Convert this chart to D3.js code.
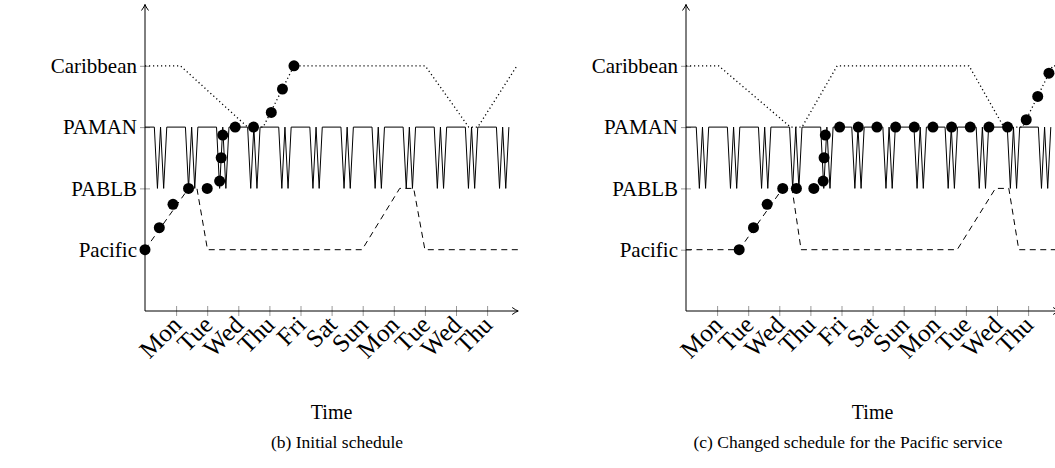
<!DOCTYPE html>
<html>
<head>
<meta charset="utf-8">
<script src="https://cdn.jsdelivr.net/npm/d3@7"></script>
<style>
  body { margin: 0; background: #fff; }
  svg text { font-family: "Liberation Serif", "DejaVu Serif", serif; fill: #000; }
</style>
</head>
<body>
<div id="root"></div>
<script>
// tick labels on both axes
const dayLabels = ['Mon', 'Tue', 'Wed', 'Thu', 'Fri', 'Sat', 'Sun', 'Mon', 'Tue', 'Wed', 'Thu'];
const dayTicks = [1, 2, 3, 4, 5, 6, 7, 8, 9, 10, 11];
const portLabels = ['Pacific', 'PABLB', 'PAMAN', 'Caribbean'];
const portTicks = [1, 2, 3, 4];

// (b) initial schedule, points are [day, port level]
const initialPacific = [[0, 1], [1.4, 2], [1.67, 2], [2.01, 1], [6.98, 1], [8.19, 2], [8.64, 2], [9.0, 1], [12, 1]];
const initialCaribbean = [[0, 4], [1.14, 4], [3.3, 3], [3.8, 3], [4.79, 4], [9.01, 4], [10.41, 3], [10.7, 3], [11.96, 4]];
const initialCanalStarts = [0.3, 1.3, 2.3, 3.3, 4.3, 5.3, 6.3, 7.3, 8.3, 9.3, 10.3, 11.3];
const initialCargo = [[0, 1], [0.46, 1.36], [0.9, 1.74], [1.4, 2], [2.0, 2], [2.4, 2.12], [2.45, 2.5], [2.5, 2.87],
    [2.9, 3], [3.49, 3], [4.06, 3.24], [4.42, 3.62], [4.79, 4]];

// (c) changed schedule
const changedPacific = [[0, 1], [1.71, 1], [3.11, 2], [3.41, 2], [3.7, 1], [8.72, 1], [9.95, 2], [10.38, 2], [10.7, 1], [12, 1]];
const changedCaribbean = [[0, 4], [1.05, 4], [3.36, 3], [3.73, 3], [4.86, 4], [9.1, 4], [10.22, 3], [10.82, 3], [11.79, 4], [12, 4]];
const changedCanalStarts = [0.33, 1.33, 2.33, 3.33, 4.33, 5.33, 6.33, 7.33, 8.33, 9.33, 10.33, 11.33];
const changedCargo = [[1.71, 1], [2.17, 1.36], [2.61, 1.74], [3.11, 2], [3.55, 2], [4.11, 2], [4.41, 2.12], [4.44, 2.5],
    [4.48, 2.87], [4.94, 3], [5.54, 3], [6.14, 3], [6.74, 3], [7.34, 3], [7.94, 3], [8.54, 3], [9.14, 3],
    [9.74, 3], [10.34, 3], [10.94, 3.12], [11.31, 3.5], [11.67, 3.88]];

// one canal round trip: PAMAN -> PABLB -> PAMAN -> PABLB -> PAMAN
const canalOffsets = [0, 0.1, 0.2, 0.3, 0.4];
const canalLevels = [3, 2, 3, 2, 3];

let svg = d3.select('#root')
    .append('svg')
    .attr('width', 1055)
    .attr('height', 468);

drawPanel(svg, 145, initialPacific, initialCaribbean, initialCanalStarts, initialCargo, '(b) Initial schedule', 337);
drawPanel(svg, 686, changedPacific, changedCaribbean, changedCanalStarts, changedCargo, '(c) Changed schedule for the Pacific service', 848);

function drawPanel(svg, originX, pacific, caribbean, canalStarts, cargo, caption, captionX) {

    let x = d3.scaleLinear().domain([0, 12]).range([originX, originX + 12 * 31.1]),
        y = d3.scaleLinear().domain([0, 5]).range([311, 311 - 5 * 61.3]),
        g = svg.append('g');

    // x axis with crossing ticks and rotated day names
    let xAxis = g.append('g')
        .attr('transform', 'translate(0,' + y(0) + ')')
        .call(d3.axisBottom(x).tickValues(dayTicks).tickFormat((d, i) => dayLabels[i]).tickSizeOuter(0))
        .attr('font-family', null).attr('font-size', null);
    xAxis.select('.domain').remove();
    xAxis.selectAll('.tick line').attr('y1', -5).attr('y2', 5).attr('stroke', '#999');
    xAxis.selectAll('.tick text')
        .attr('x', 0).attr('y', 0).attr('dy', '0.3em')
        .attr('text-anchor', 'end')
        .attr('transform', 'translate(1,10) rotate(-45)')
        .style('font-size', '25px');

    let yAxis = g.append('g')
        .attr('transform', 'translate(' + x(0) + ',0)')
        .call(d3.axisLeft(y).tickValues(portTicks).tickFormat((d, i) => portLabels[i]).tickSizeOuter(0))
        .attr('font-family', null).attr('font-size', null);
    yAxis.select('.domain').remove();
    yAxis.selectAll('.tick line').attr('x1', -5).attr('x2', 5).attr('stroke', '#999');
    yAxis.selectAll('.tick text')
        .attr('x', -8)
        .style('font-size', '21px');

    // axis lines with arrow heads
    let arrow = 'M-6,-3.5 Q-2,-0.6 0,0 Q-2,0.6 -6,3.5';
    g.append('line').attr('x1', x(0)).attr('y1', y(0)).attr('x2', x(12)).attr('y2', y(0))
        .attr('stroke', '#000').attr('stroke-width', 1);
    g.append('path').attr('d', arrow).attr('transform', 'translate(' + x(12) + ',' + y(0) + ')')
        .attr('fill', 'none').attr('stroke', '#000');
    g.append('line').attr('x1', x(0)).attr('y1', y(0)).attr('x2', x(0)).attr('y2', y(5))
        .attr('stroke', '#000').attr('stroke-width', 1);
    g.append('path').attr('d', arrow).attr('transform', 'translate(' + x(0) + ',' + y(5) + ') rotate(-90)')
        .attr('fill', 'none').attr('stroke', '#000');

    let line = d3.line().x((d) => x(d[0])).y((d) => y(d[1]));

    // canal shuttle built from its round trips
    let canal = [[0, 3]];
    canalStarts.forEach((start) => {
        canalOffsets.forEach((offset, i) => canal.push([start + offset, canalLevels[i]]));
    });

    g.append('path').datum(canal).attr('d', line)
        .attr('fill', 'none').attr('stroke', '#000').attr('stroke-width', 1);
    g.append('path').datum(pacific).attr('d', line)
        .attr('fill', 'none').attr('stroke', '#000').attr('stroke-width', 1)
        .attr('stroke-dasharray', '6,4.5');
    g.append('path').datum(caribbean).attr('d', line)
        .attr('fill', 'none').attr('stroke', '#000').attr('stroke-width', 1.3)
        .attr('stroke-dasharray', '1.2,2.8');

    g.selectAll('.cargo')
        .data(cargo)
        .enter()
        .append('circle')
        .attr('class', 'cargo')
        .attr('cx', (d) => x(d[0]))
        .attr('cy', (d) => y(d[1]))
        .attr('r', 5.5)
        .attr('fill', '#000');

    g.append('text')
        .attr('x', x(6)).attr('y', 419)
        .attr('text-anchor', 'middle')
        .style('font-size', '20px')
        .text('Time');

    g.append('text')
        .attr('x', captionX).attr('y', 448)
        .attr('text-anchor', 'middle')
        .style('font-size', '17.5px')
        .text(caption);
}
</script>
</body>
</html>
